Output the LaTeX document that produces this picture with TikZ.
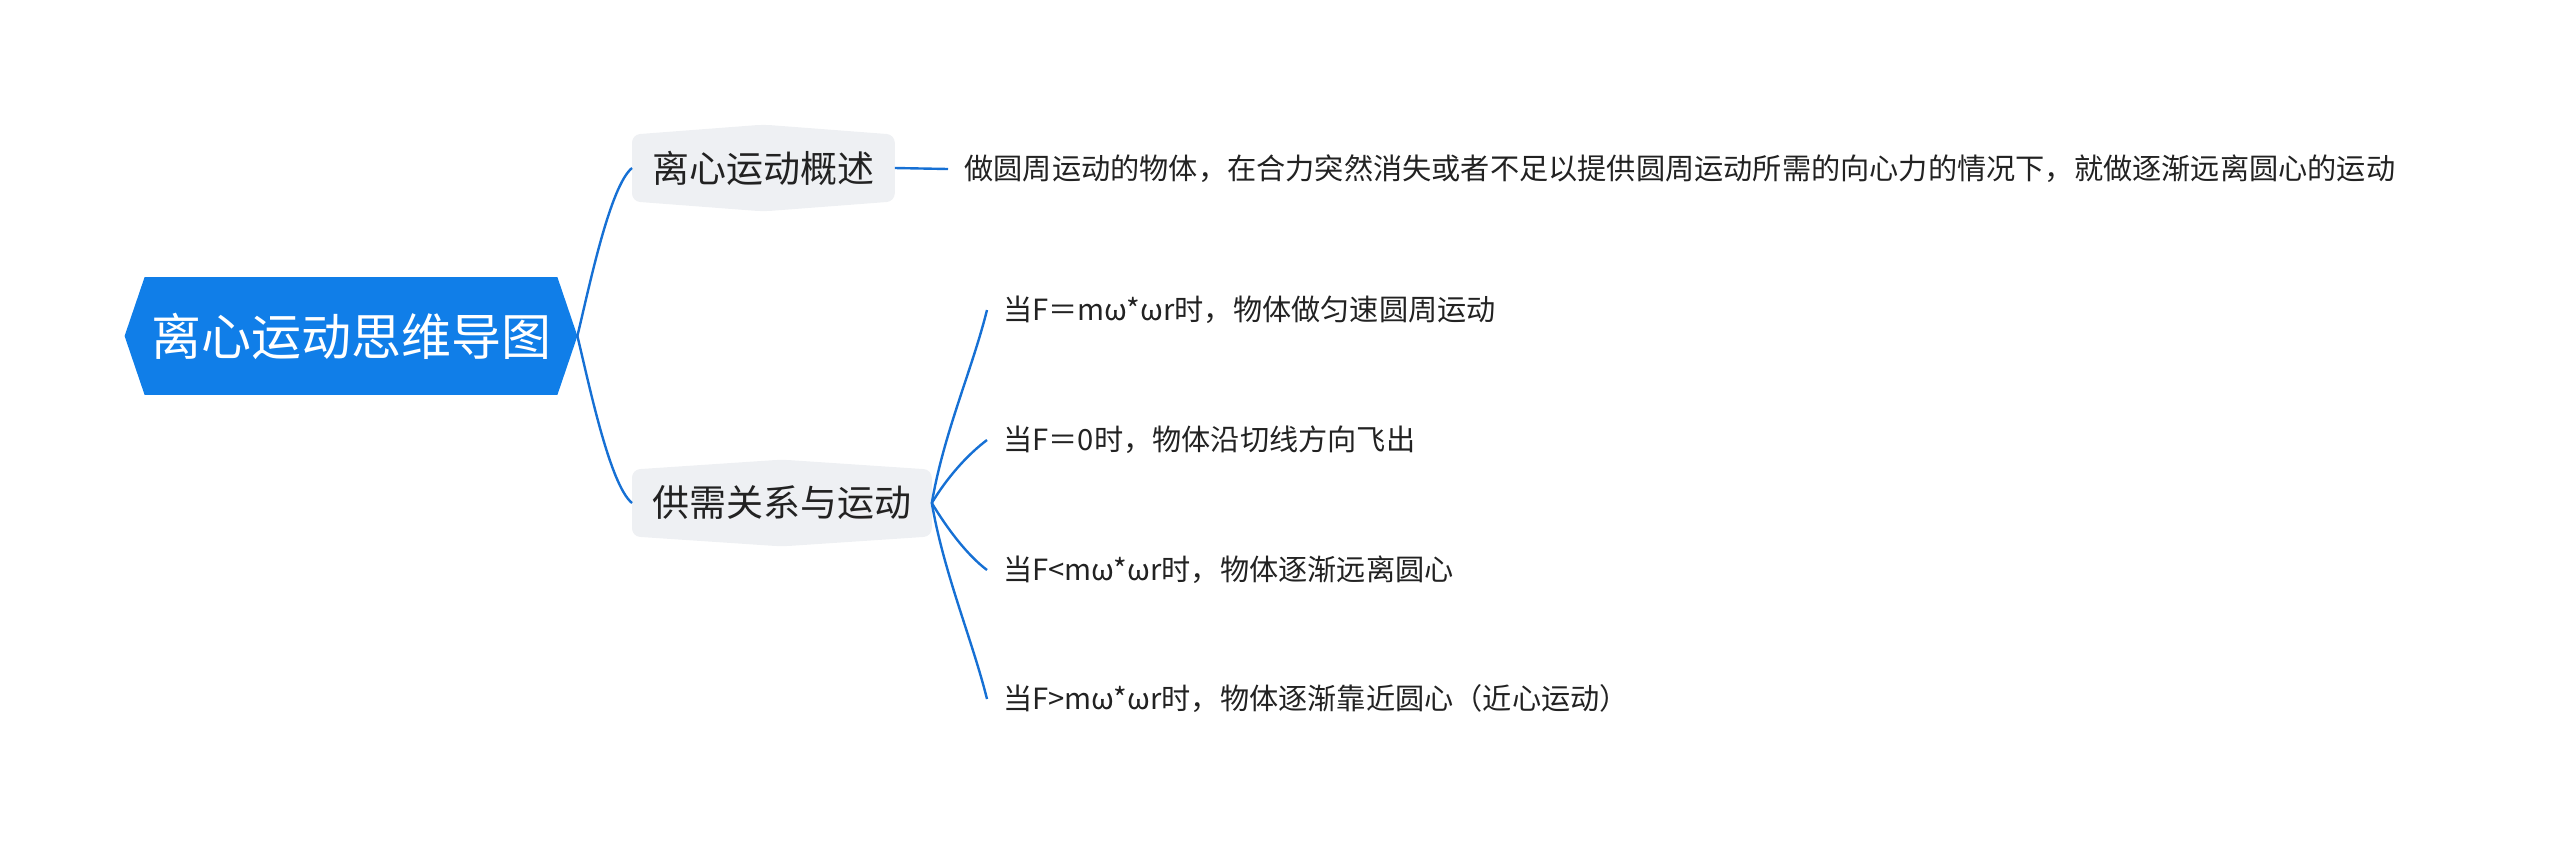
\documentclass[tikz,border=0pt]{standalone}
\usepackage{fontspec}
\setmainfont{Noto Sans CJK SC}
\usetikzlibrary{backgrounds}
\definecolor{rootblue}{RGB}{16,126,232}
\definecolor{linkblue}{RGB}{22,112,212}
\definecolor{branchgray}{RGB}{238,240,243}
\definecolor{leafgray}{RGB}{34,34,34}
\tikzset{
  rootnode/.style={text=white, font=\fontsize{25pt}{30pt}\selectfont, minimum width=206pt, minimum height=58.5pt, inner sep=0pt},
  branchnode/.style={anchor=west, text=leafgray, font=\fontsize{18.5pt}{22pt}\selectfont, minimum height=33pt, inner xsep=10pt, inner ysep=0pt},
  leafnode/.style={anchor=west, text=leafgray, font=\fontsize{14.6pt}{18pt}\selectfont, inner xsep=8pt},
  link/.style={draw=linkblue, line width=1.2pt},
}
\begin{document}
\begin{tikzpicture}[x=0.5pt, y=-0.5pt]
  \useasboundingbox (0,0) rectangle (2560,858);
  % 中心主题
  \node[rootnode] (root) at (351,336) {离心运动思维导图};
  \coordinate (roottip) at ([xshift=10pt]root.east);
  % 分支
  \node[branchnode] (gs) at (632,168) {离心运动概述};
  \node[branchnode] (gx) at (632,503) {供需关系与运动};
  % 叶子
  \node[leafnode] (dy) at (948,169) {做圆周运动的物体，在合力突然消失或者不足以提供圆周运动所需的向心力的情况下，就做逐渐远离圆心的运动};
  \node[leafnode] (l1) at (987,310) {当F＝mω*ωr时，物体做匀速圆周运动};
  \node[leafnode] (l2) at (987,440) {当F＝0时，物体沿切线方向飞出};
  \node[leafnode] (l3) at (987,570) {当F<mω*ωr时，物体逐渐远离圆心};
  \node[leafnode] (l4) at (987,699) {当F>mω*ωr时，物体逐渐靠近圆心（近心运动）};
  % 底色
  \begin{scope}[on background layer]
    \fill[rootblue] (root.north west) -- (root.north east) -- (roottip) -- (root.south east)
      -- (root.south west) -- ([xshift=-10pt]root.west) -- cycle;
    \foreach \n in {gs,gx}
      \fill[branchgray, rounded corners=4pt] (\n.north west) -- ([yshift=5pt]\n.north) -- (\n.north east)
        -- (\n.south east) -- ([yshift=-5pt]\n.south) -- (\n.south west) -- cycle;
  \end{scope}
  % 连线
  \draw[link] (roottip) .. controls +(12,-50) and +(-22,18) .. (gs.west);
  \draw[link] (roottip) .. controls +(12,50) and +(-22,-18) .. (gx.west);
  \draw[link] (gs.east) -- (dy.west);
  \draw[link] (gx.east) .. controls +(12,-70) and +(-15,60) .. (l1.west);
  \draw[link] (gx.east) .. controls +(15,-25) and +(-20,15) .. (l2.west);
  \draw[link] (gx.east) .. controls +(15,25) and +(-20,-15) .. (l3.west);
  \draw[link] (gx.east) .. controls +(12,70) and +(-15,-60) .. (l4.west);
\end{tikzpicture}
\end{document}
